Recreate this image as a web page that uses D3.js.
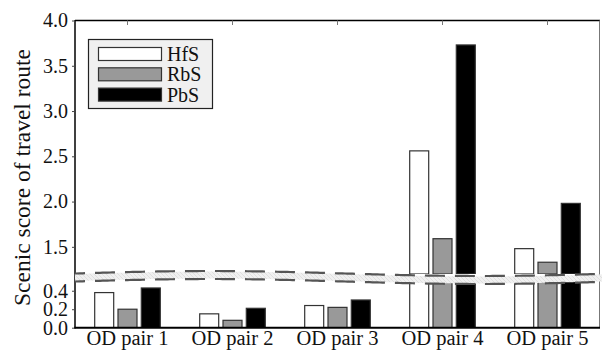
<!DOCTYPE html>
<html>
<head>
<meta charset="utf-8">
<script src="https://cdn.jsdelivr.net/npm/d3@7"></script>
<style>
  body { margin: 0; background: #fff; }
</style>
</head>
<body>
<div id="chart"></div>
<script>
// data
const categories = ['OD pair 1', 'OD pair 2', 'OD pair 3', 'OD pair 4', 'OD pair 5'];
const seriesNames = ['HfS', 'RbS', 'PbS'];
const hfs = [0.38, 0.15, 0.24, 2.56, 1.48];
const rbs = [0.20, 0.08, 0.22, 1.59, 1.33];
const pbs = [0.43, 0.21, 0.30, 3.73, 1.98];
const lowerTicks = [0.0, 0.2, 0.4];
const upperTicks = [1.5, 2.0, 2.5, 3.0, 3.5, 4.0];

const width = 602;
const height = 351;
const colors = ['#ffffff', '#999999', '#000000'];
const series = [hfs, rbs, pbs];
const FONT = "'Liberation Serif'";

var svg = d3.select('#chart')
  .append('svg')
  .attr('width', width)
  .attr('height', height);

var x = d3.scaleBand().domain(categories).range([75, 600]).padding(0);
var offsets = d3.scalePoint().domain(seriesNames).range([-23.3, 23.3]);
const barW = 19;

// broken y axis: two panels
var yUp = d3.scaleLinear().domain([1.2, 4.0]).range([274, 20.5]);
var yLow = d3.scaleLinear().domain([0, 0.5]).range([327.7, 281.5]);

var defs = svg.append('defs');
defs.append('clipPath').attr('id', 'clipUp')
  .append('rect').attr('x', 75).attr('y', yUp.range()[1]).attr('width', 525).attr('height', yUp.range()[0] - yUp.range()[1]);
defs.append('clipPath').attr('id', 'clipLow')
  .append('rect').attr('x', 75).attr('y', yLow.range()[1]).attr('width', 525).attr('height', yLow.range()[0] - yLow.range()[1]);

function drawBars(scale, clip) {
  var g = svg.append('g').attr('clip-path', 'url(#' + clip + ')');
  seriesNames.forEach((name, si) => {
    g.selectAll('rect.s' + si)
      .data(series[si])
      .enter()
      .append('rect')
      .attr('x', (d, i) => x(categories[i]) + x.bandwidth() / 2 + offsets(name) - barW / 2)
      .attr('width', barW)
      .attr('y', d => scale(Math.min(d, scale.domain()[1])))
      .attr('height', d => Math.max(0, scale.range()[0] - scale(Math.min(d, scale.domain()[1]))))
      .attr('fill', colors[si])
      .attr('stroke', '#333')
      .attr('stroke-width', 1.2);
  });
}
drawBars(yUp, 'clipUp');
drawBars(yLow, 'clipLow');

// frame
svg.append('line').attr('x1', 75).attr('x2', 600).attr('y1', 20.5).attr('y2', 20.5)
  .attr('stroke', '#000').attr('stroke-width', 1.3);
svg.append('line').attr('x1', 599.5).attr('x2', 599.5).attr('y1', 20.5).attr('y2', 328)
  .attr('stroke', '#777').attr('stroke-width', 1);
svg.append('line').attr('x1', 75).attr('x2', 75).attr('y1', 20).attr('y2', 328.5)
  .attr('stroke', '#000').attr('stroke-width', 1.5);
svg.append('line').attr('x1', 74).attr('x2', 600).attr('y1', 327.7).attr('y2', 327.7)
  .attr('stroke', '#000').attr('stroke-width', 2);

// top ticks
svg.selectAll('line.ttick')
  .data(categories)
  .enter()
  .append('line')
  .attr('x1', d => x(d) + x.bandwidth() / 2)
  .attr('x2', d => x(d) + x.bandwidth() / 2)
  .attr('y1', 20.5).attr('y2', 25)
  .attr('stroke', '#777').attr('stroke-width', 1);

// y axes
function styleAxis(g) {
  g.select('.domain').remove();
  g.selectAll('.tick line').attr('stroke', '#444');
  g.selectAll('.tick text').attr('font-size', 20).attr('fill', '#111')
    .style('font-family', FONT);
}
svg.append('g').attr('transform', 'translate(75,0)')
  .call(d3.axisLeft(yUp).tickValues(upperTicks).tickFormat(d3.format('.1f')).tickSize(3).tickPadding(4))
  .call(styleAxis);
svg.append('g').attr('transform', 'translate(75,0)')
  .call(d3.axisLeft(yLow).tickValues(lowerTicks).tickFormat(d3.format('.1f')).tickSize(3).tickPadding(4))
  .call(styleAxis);

// x axis labels
var xAxis = svg.append('g').attr('transform', 'translate(0,327.7)')
  .call(d3.axisBottom(x).tickSize(0).tickPadding(3));
xAxis.select('.domain').remove();
xAxis.selectAll('.tick text').attr('font-size', 20.5).attr('fill', '#111')
  .style('font-family', FONT);

// y label
svg.append('text')
  .attr('transform', 'translate(30,177.5) rotate(-90)')
  .attr('text-anchor', 'middle')
  .attr('font-size', 23.5)
  .attr('fill', '#111')
  .style('font-family', FONT)
  .text('Scenic score of travel route');

// break marker (wavy band)
var pat = defs.append('pattern').attr('id', 'hatch').attr('patternUnits', 'userSpaceOnUse')
  .attr('width', 4).attr('height', 4);
pat.append('rect').attr('width', 4).attr('height', 4).attr('fill', '#f0f0f0');
pat.append('path').attr('d', 'M0,0 L4,4').attr('stroke', '#d4d4d4').attr('stroke-width', 0.6);

var wave = d3.range(75, 606, 5);
var waveY = xv => 277.5 - 2.5 * Math.sin(2 * Math.PI * (xv - 75) / 540);
var line = d3.line().x(d => d[0]).y(d => d[1]).curve(d3.curveBasis);
svg.append('path')
  .attr('d', line(wave.map(xv => [xv, waveY(xv)])))
  .attr('fill', 'none').attr('stroke', 'url(#hatch)').attr('stroke-width', 7);
[-4, 4].forEach(off => {
  svg.append('path')
    .attr('d', line(wave.map(xv => [xv, waveY(xv) + off])))
    .attr('fill', 'none').attr('stroke', '#555').attr('stroke-width', 2.2)
    .attr('stroke-dasharray', '20,10').attr('stroke-dashoffset', 10);
});

// legend
var lg = svg.append('g');
lg.append('rect').attr('x', 88.5).attr('y', 39.5).attr('width', 124).attr('height', 69)
  .attr('fill', '#f0f0f0').attr('stroke', '#222').attr('stroke-width', 1.2);
seriesNames.forEach((name, i) => {
  lg.append('rect').attr('x', 98.5).attr('y', 47.5 + i * 20.3).attr('width', 63).attr('height', 13)
    .attr('fill', colors[i]).attr('stroke', '#333').attr('stroke-width', 1.2);
  lg.append('text').attr('x', 167).attr('y', 54 + i * 20.3).attr('dy', '0.35em')
    .attr('font-size', 20).attr('fill', '#111')
    .style('font-family', FONT).text(name);
});
</script>
</body>
</html>
